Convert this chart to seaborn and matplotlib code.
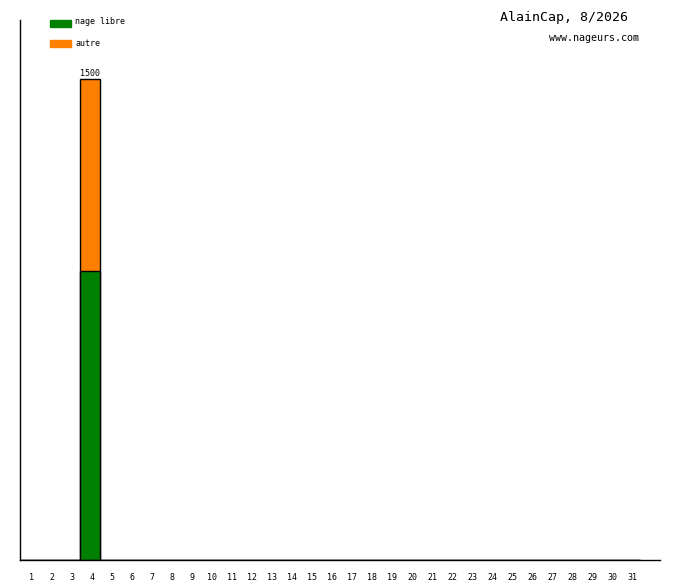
import matplotlib
matplotlib.use("Agg")
import matplotlib.pyplot as plt
import matplotlib.patches as mpatches
import matplotlib.transforms as mtransforms
import seaborn as sns
import pandas as pd

days = list(range(1, 32))
nage_libre = [0, 0, 0, 900] + [0] * 27
autre = [0, 0, 0, 600] + [0] * 27
totals = [a + b for a, b in zip(nage_libre, autre)]

green = "#008000"
orange = "#ff8000"
mono = "DejaVu Sans Mono"

sns.set_style("white")
plt.rcParams["font.family"] = [mono]
plt.rcParams["text.color"] = "black"
plt.rcParams["xtick.color"] = "black"

df = pd.DataFrame({"day": days, "nage libre": nage_libre, "total": totals})

fig = plt.figure(figsize=(6.8, 5.8), dpi=100)
ax = fig.add_axes([20 / 680, 20 / 580, 640 / 680, 540 / 580])

sns.barplot(data=df, x="day", y="total", native_scale=True, width=1,
            color=orange, saturation=1, edgecolor="black", linewidth=1, ax=ax)
sns.barplot(data=df, x="day", y="nage libre", native_scale=True, width=1,
            color=green, saturation=1, edgecolor="black", linewidth=1, ax=ax)

ax.set_xlim(0.5, 32.5)
ax.set_ylim(0, 1684)
ax.set_xticks(days)
ax.set_xticklabels([str(d) for d in days], fontsize=6)
ax.set_yticks([])
ax.tick_params(axis="x", length=0, pad=9)
# labels sit a couple of pixels right of the slot centre
shift = mtransforms.ScaledTranslation(2 / 100, 0, fig.dpi_scale_trans)
for lbl in ax.get_xticklabels():
    lbl.set_transform(lbl.get_transform() + shift)
ax.set_xlabel("")
ax.set_ylabel("")
sns.despine(ax=ax)
for s in ["left", "bottom"]:
    ax.spines[s].set_color("black")
    ax.spines[s].set_linewidth(1)

for d, t in zip(days, totals):
    if t > 0:
        ax.text(d, t + 3, str(t), ha="center", va="bottom", fontsize=6)

# legend drawn by hand like the original
fig.patches.append(mpatches.Rectangle((50 / 680, 1 - 27 / 580), 21 / 680, 7 / 580,
                                      transform=fig.transFigure, color=green))
fig.patches.append(mpatches.Rectangle((50 / 680, 1 - 47 / 580), 21 / 680, 7 / 580,
                                      transform=fig.transFigure, color=orange))
fig.text(75 / 680, 1 - 22 / 580, "nage libre", fontsize=6, va="center")
fig.text(75 / 680, 1 - 43 / 580, "autre", fontsize=6, va="center")

fig.text(628 / 680, 1 - 18 / 580, "AlainCap, 8/2026", fontsize=9.5,
         ha="right", va="center")
fig.text(639 / 680, 1 - 38 / 580, "www.nageurs.com", fontsize=7.2,
         ha="right", va="center")

fig.savefig("out.png", dpi=100, facecolor="white")
